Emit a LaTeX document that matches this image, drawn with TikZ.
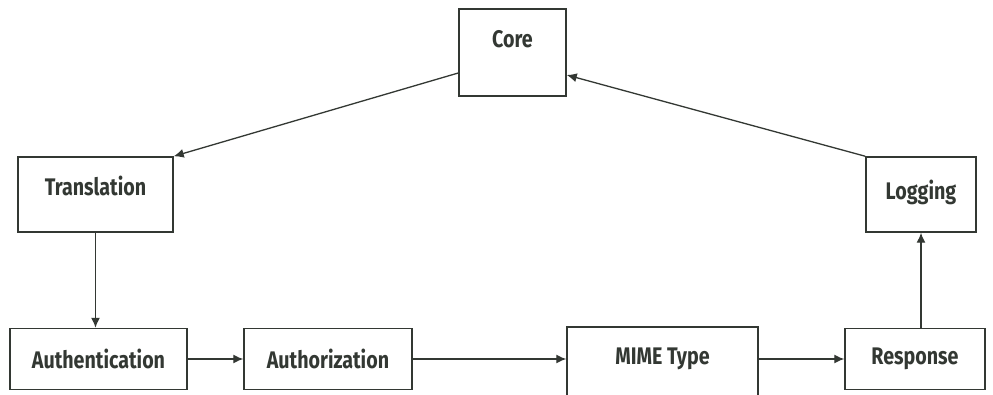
\documentclass[tikz,border=0pt]{standalone}
\usepackage{fontspec}
\setmainfont{Fira Sans}[FakeStretch=0.82]
\usetikzlibrary{arrows.meta}
\definecolor{ink}{HTML}{333833}
\begin{document}
\begin{tikzpicture}[x=1pt,y=-1pt,
  box/.style={draw=ink,line width=1.5pt,rectangle,inner sep=0pt,
    font=\bfseries\fontsize{24}{28}\selectfont,text=ink},
  flow/.style={draw=ink,line width=1.3pt,-{Latex[length=10pt,width=9pt]}}]
  \useasboundingbox (0,0) rectangle (993,395);
  \clip (0,0) rectangle (993,395);
  \fill[white] (0,0) rectangle (993,395);

  % top of the cycle
  \node[box,minimum width=107pt,minimum height=87pt,text depth=28pt] (core) at (512.5,52.5) {Core};
  \node[box,minimum width=155pt,minimum height=75pt,text depth=17pt] (trans) at (95.5,194.5) {Translation};
  \node[box,minimum width=110pt,minimum height=75pt,text depth=9pt] (log) at (921,194.5) {Logging};

  % request pipeline
  \node[box,minimum width=177pt,minimum height=61pt] (auth) at (98.5,359) {Authentication};
  \node[box,minimum width=168pt,minimum height=61pt] (authz) at (328,359) {Authorization};
  \node[box,minimum width=191pt,minimum height=76pt,text depth=18pt] (mime) at (662.5,365) {MIME Type};
  \node[box,minimum width=140pt,minimum height=61pt] (resp) at (915,359) {Response};

  % connectors
  \draw[flow] ([yshift=-20.5pt]core.west) -- (trans.north east);
  \draw[flow] (trans.south) -- (trans.south |- auth.north);
  \draw[flow] (auth.east) -- (authz.west);
  \draw[flow] (authz.east) -- (authz.east -| mime.west);
  \draw[flow] (mime.east |- resp.west) -- (resp.west);
  \draw[flow] (log.south |- resp.north) -- (log.south);
  \draw[flow] (log.north west) -- ([yshift=-22.5pt]core.east);
\end{tikzpicture}
\end{document}
